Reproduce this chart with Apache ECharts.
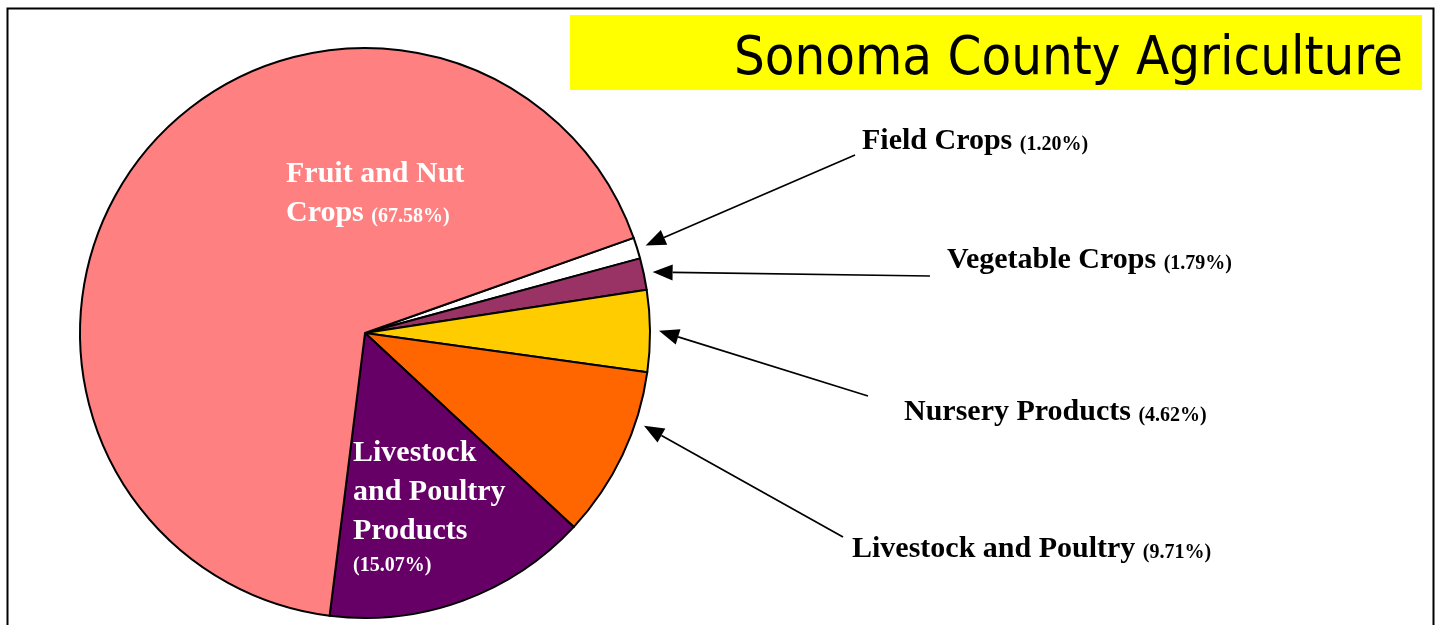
<!DOCTYPE html>
<html>
<head>
<meta charset="utf-8">
<script src="https://cdn.jsdelivr.net/npm/echarts@6/dist/echarts.min.js"></script>
<style>
	html, body { margin: 0; padding: 0; background: #fff; }
	#pie_chart { width: 1440px; height: 625px; }
</style>
</head>
<body>
<div id="pie_chart"></div>
<script>
var categories = ['Field Crops', 'Vegetable Crops', 'Nursery Products', 'Livestock and Poultry', 'Livestock and Poultry Products', 'Fruit and Nut Crops'];
var shares = [1.20, 1.79, 4.62, 9.71, 15.07, 67.58];
var colors = ['#FFFFFF', '#993366', '#FFCC00', '#FF6600', '#660066', '#FF8080'];
// how the two inside labels wrap
var insideLines = [null, null, null, null, ['Livestock', 'and Poultry', 'Products'], ['Fruit and Nut', 'Crops']];
var pctOwnLine = [false, false, false, false, true, false];

var center = [365, 333];
var radius = 285;
var startAngle = 19.5;
// label anchors (left edge) and arrow tails
var labelPos = [[862, 141], [947, 260], [904, 412], [852, 549], [353, 434], [286, 155]];
var arrowTail = [[855, 155], [930, 276], [868, 396], [843, 537]];
var arrowAt = [0.5, 0.5, 0.5, 0.3];

var serif = '"Liberation Serif", "Times New Roman", serif';

function pie_chart() {
	var chart = echarts.init(document.getElementById('pie_chart'));
	var total = shares.reduce(function (a, b) { return a + b; }, 0);

	var data = categories.map(function (name, i) {
		var inside = insideLines[i] != null;
		var c = inside ? '#fff' : '#000';
		return {
			name: name,
			value: shares[i],
			itemStyle: { color: colors[i] },
			label: {
				position: inside ? 'inside' : 'outside',
				rich: {
					n: { fontFamily: serif, fontWeight: 'bold', fontSize: 30, lineHeight: 39, color: c },
					p: inside && pctOwnLine[i]
						? { fontFamily: serif, fontWeight: 'bold', fontSize: 20, lineHeight: 30, color: c }
						: { fontFamily: serif, fontWeight: 'bold', fontSize: 20, lineHeight: 20, padding: [0, 0, 6, 0], verticalAlign: 'bottom', color: c }
				}
			}
		};
	});

	// frame, title box, and arrows from each outside label to its slice
	var graphics = [{
		type: 'rect',
		z: -10,
		shape: { x: 7.5, y: 8.5, width: 1426, height: 640 },
		style: { fill: 'none', stroke: '#000', lineWidth: 2 }
	}, {
		type: 'rect',
		z: -5,
		shape: { x: 570, y: 15, width: 852, height: 75 },
		style: { fill: '#FFFF00' }
	}];
	var cum = 0;
	shares.forEach(function (v, i) {
		var a0 = startAngle - cum / total * 360;
		var a1 = a0 - v / total * 360;
		cum += v;
		if (i >= arrowTail.length) return;
		var t = (a0 + (a1 - a0) * arrowAt[i]) * Math.PI / 180;
		var r = radius + 9;
		var tip = [center[0] + r * Math.cos(t), center[1] - r * Math.sin(t)];
		var tail = arrowTail[i];
		var dx = tail[0] - tip[0], dy = tail[1] - tip[1];
		var len = Math.sqrt(dx * dx + dy * dy);
		var ux = dx / len, uy = dy / len;
		var hl = 20, hw = 8;
		var base = [tip[0] + ux * hl, tip[1] + uy * hl];
		graphics.push({
			type: 'line',
			shape: { x1: base[0], y1: base[1], x2: tail[0], y2: tail[1] },
			style: { stroke: '#000', lineWidth: 1.7 }
		});
		graphics.push({
			type: 'polygon',
			shape: { points: [tip, [base[0] - uy * hw, base[1] + ux * hw], [base[0] + uy * hw, base[1] - ux * hw]] },
			style: { fill: '#000' }
		});
	});

	chart.setOption({
		title: {
			text: 'Sonoma County Agriculture',
			right: 32,
			top: 28,
			textStyle: {
				fontFamily: '"Liberation Sans Narrow", "DejaVu Sans Condensed", "Liberation Sans", sans-serif',
				fontWeight: 'normal',
				fontSize: 54,
				color: '#000'
			}
		},
		graphic: graphics,
		series: [{
			type: 'pie',
			center: center,
			radius: radius,
			startAngle: startAngle,
			clockwise: true,
			avoidLabelOverlap: false,
			silent: true,
			itemStyle: { borderColor: '#000', borderWidth: 2 },
			label: {
				show: true,
				formatter: function (p) {
					var i = p.dataIndex;
					var pct = '{p|(' + shares[i].toFixed(2) + '%)}';
					if (insideLines[i] == null) return '{n|' + p.name + ' }' + pct;
					var lines = insideLines[i].map(function (s) { return '{n|' + s + '}'; });
					if (pctOwnLine[i]) lines.push(pct);
					else lines[lines.length - 1] = '{n|' + insideLines[i][lines.length - 1] + ' }' + pct;
					return lines.join('\n');
				}
			},
			labelLine: { show: false },
			labelLayout: function (params) {
				var i = params.dataIndex;
				var inside = insideLines[i] != null;
				return {
					x: labelPos[i][0],
					y: labelPos[i][1],
					align: 'left',
					verticalAlign: inside ? 'top' : 'middle'
				};
			},
			data: data
		}]
	});
}
pie_chart();
</script>
</body>
</html>
